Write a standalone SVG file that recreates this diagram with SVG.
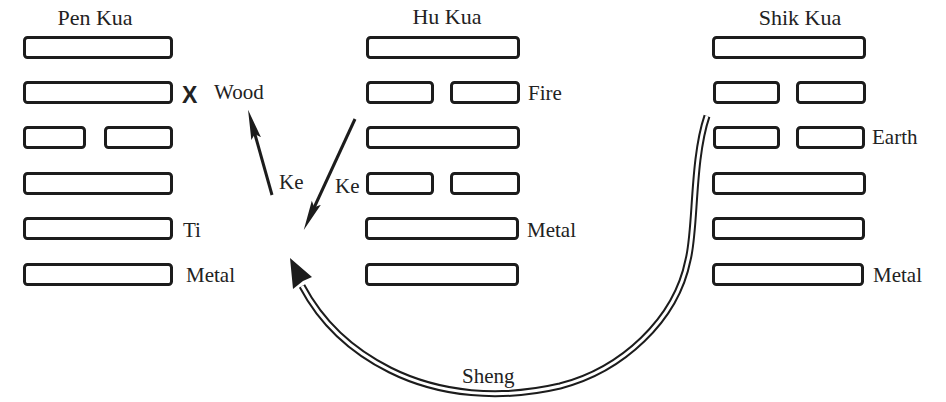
<svg xmlns="http://www.w3.org/2000/svg" width="946" height="402" viewBox="0 0 946 402">
<style>
.bar{fill:#fff;stroke:#1c1c1c;stroke-width:3;}
.t{font-family:"Liberation Serif","Times New Roman","DejaVu Serif",serif;font-size:21px;fill:#222;}
.title{font-size:22px;}
.ke{stroke:#1c1c1c;stroke-width:3;fill:none;marker-end:url(#kehead);}
</style>
<defs>
<marker id="kehead" markerUnits="userSpaceOnUse" viewBox="0 0 30 12" markerWidth="30" markerHeight="12" refX="8" refY="6" orient="auto">
<path d="M0,1 L30,6 L0,11 L5,6 z" fill="#1c1c1c"/>
</marker>
</defs>
<rect width="946" height="402" fill="#fff"/>

<g id="pen-kua">
<text class="t title" x="95" y="25" text-anchor="middle">Pen Kua</text>
<rect class="bar" x="24.5" y="37.5" width="147" height="20" rx="3"/>
<rect class="bar" x="24.5" y="82.5" width="147" height="20" rx="3"/>
<rect class="bar" x="24.5" y="127.5" width="60" height="20" rx="3"/>
<rect class="bar" x="105.5" y="127.5" width="66" height="20" rx="3"/>
<rect class="bar" x="24.5" y="173.5" width="147" height="20" rx="3"/>
<rect class="bar" x="24.5" y="218.5" width="147" height="20" rx="3"/>
<rect class="bar" x="24.5" y="264.5" width="147" height="20" rx="3"/>
<text x="182" y="103" font-family="Liberation Sans, Arial, sans-serif" font-weight="bold" font-size="23" fill="#222">X</text>
<text class="t" x="214" y="99">Wood</text>
<text class="t" x="183" y="237">Ti</text>
<text class="t" x="186" y="282">Metal</text>
</g>

<g id="hu-kua">
<text class="t title" x="447" y="24" text-anchor="middle">Hu Kua</text>
<rect class="bar" x="367.5" y="37.5" width="151" height="20" rx="3"/>
<rect class="bar" x="367.5" y="82.5" width="65" height="20" rx="3"/>
<rect class="bar" x="451.5" y="82.5" width="67" height="20" rx="3"/>
<rect class="bar" x="367.5" y="127.5" width="151" height="20" rx="3"/>
<rect class="bar" x="367.5" y="173.5" width="65" height="20" rx="3"/>
<rect class="bar" x="451.5" y="173.5" width="67" height="20" rx="3"/>
<rect class="bar" x="366.5" y="218.5" width="151" height="20" rx="3"/>
<rect class="bar" x="366.5" y="264.5" width="151" height="20" rx="3"/>
<text class="t" x="528" y="100">Fire</text>
<text class="t" x="527" y="237">Metal</text>
</g>

<g id="shik-kua">
<text class="t title" x="800" y="25" text-anchor="middle">Shik Kua</text>
<rect class="bar" x="713.5" y="37.5" width="151" height="20" rx="3"/>
<rect class="bar" x="714.5" y="82.5" width="64" height="20" rx="3"/>
<rect class="bar" x="797.5" y="82.5" width="67" height="20" rx="3"/>
<rect class="bar" x="714.5" y="127.5" width="64" height="20" rx="3"/>
<rect class="bar" x="797.5" y="127.5" width="66" height="20" rx="3"/>
<rect class="bar" x="713.5" y="173.5" width="151" height="20" rx="3"/>
<rect class="bar" x="713.5" y="218.5" width="150" height="20" rx="3"/>
<rect class="bar" x="713.5" y="264.5" width="149" height="20" rx="3"/>
<text class="t" x="872" y="144">Earth</text>
<text class="t" x="873" y="282">Metal</text>
</g>

<g id="connectors">
<line class="ke" x1="272" y1="195" x2="254" y2="131"/>
<line class="ke" x1="355" y1="119" x2="313" y2="210"/>
<text class="t" x="279" y="189">Ke</text>
<text class="t" x="335" y="193">Ke</text>
<path d="M 707 116 C 692 160, 696 230, 688 260 C 676 320, 622 370, 560 386 C 500 400, 440 395, 390 370 C 350 350, 320 320, 302 286" fill="none" stroke="#1c1c1c" stroke-width="7"/>
<path d="M 707 116 C 692 160, 696 230, 688 260 C 676 320, 622 370, 560 386 C 500 400, 440 395, 390 370 C 350 350, 320 320, 302 286" fill="none" stroke="#fff" stroke-width="3"/>
<polygon points="290,258 312,277 303,281 293,289" fill="#1c1c1c"/>
<text class="t" x="462" y="383">Sheng</text>
</g>
</svg>
